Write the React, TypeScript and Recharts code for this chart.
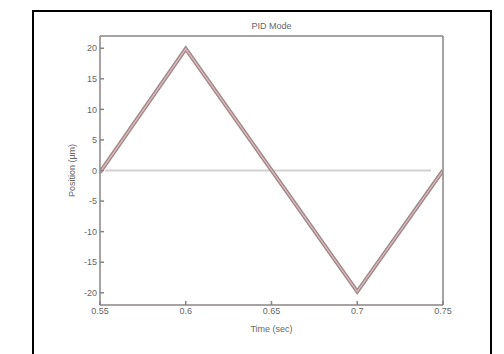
import { LineChart, Line, XAxis, YAxis } from 'recharts';

const timeTicks = [0.55, 0.6, 0.65, 0.7, 0.75];
const posTicks = [-20, -15, -10, -5, 0, 5, 10, 15, 20];

// triangle trajectory (corners)
const trajTime = [0.55, 0.6, 0.7, 0.75];
const trajPos = [-0.3, 19.9, -19.8, 0];

// zero / error trace
const zeroTime = [0.553, 0.743];
const zeroPos = [0, 0];

const trajData = trajTime.map((t, i) => ({ t, pos: trajPos[i] }));
const zeroData = zeroTime.map((t, i) => ({ t, pos: zeroPos[i] }));

const font = '"Liberation Sans", Arial, sans-serif';
const tickStyle = { fontSize: 9, fill: '#666', fontFamily: font };
const axisLine = { stroke: '#8a8484', strokeWidth: 1.5 };

const YLabel = ({ viewBox }: any) => {
  const x = viewBox.x + 64;
  const y = viewBox.y + viewBox.height / 2;
  return (
    <text
      x={x}
      y={y}
      transform={`rotate(-90, ${x}, ${y})`}
      textAnchor="middle"
      dominantBaseline="central"
      fontSize={9}
      fill="#666"
      fontFamily={font}
    >
      Position (µm)
    </text>
  );
};

export default function App() {
  return (
    <div style={{ position: 'relative', width: 496, height: 346, overflow: 'hidden' }}>
      <div
        style={{
          position: 'absolute',
          left: 24,
          top: 2,
          width: 460,
          height: 370,
          border: '2px solid #000',
          boxSizing: 'border-box',
        }}
      />
      <div style={{ position: 'absolute', left: 0, top: 0 }}>
        <LineChart width={488} height={346} margin={{ top: 27, right: 52, bottom: 19, left: 0 }}>
          <XAxis
            xAxisId="bottom"
            type="number"
            dataKey="t"
            domain={[0.55, 0.75]}
            ticks={timeTicks}
            allowDataOverflow
            height={30}
            tickSize={-4}
            tickMargin={7}
            tick={tickStyle}
            axisLine={axisLine}
            tickLine={axisLine}
            label={{ value: 'Time (sec)', position: 'insideBottom', offset: 3, style: tickStyle }}
          />
          <XAxis
            xAxisId="top"
            orientation="top"
            type="number"
            dataKey="t"
            domain={[0.55, 0.75]}
            ticks={timeTicks}
            allowDataOverflow
            height={1}
            tickSize={-4}
            tick={false}
            axisLine={axisLine}
            tickLine={axisLine}
            label={{ value: 'PID Mode', position: 'top', offset: 6, style: tickStyle }}
          />
          <YAxis
            yAxisId="left"
            type="number"
            domain={[-22, 22]}
            ticks={posTicks}
            allowDataOverflow
            width={92}
            tickSize={-4}
            tickMargin={7}
            tick={tickStyle}
            axisLine={axisLine}
            tickLine={axisLine}
            label={<YLabel />}
          />
          <YAxis
            yAxisId="right"
            orientation="right"
            type="number"
            domain={[-22, 22]}
            ticks={posTicks}
            allowDataOverflow
            width={1}
            tickSize={-4}
            tick={false}
            axisLine={axisLine}
            tickLine={axisLine}
          />
          <Line
            data={zeroData}
            xAxisId="top"
            yAxisId="right"
            dataKey="pos"
            stroke="#d4d0d0"
            strokeWidth={2}
            dot={false}
            isAnimationActive={false}
          />
          <Line
            data={trajData}
            xAxisId="bottom"
            yAxisId="left"
            dataKey="pos"
            stroke="#9c8c8e"
            strokeWidth={4}
            dot={false}
            isAnimationActive={false}
          />
          <Line
            data={trajData}
            xAxisId="bottom"
            yAxisId="left"
            dataKey="pos"
            stroke="#e8b8b8"
            strokeWidth={1.2}
            dot={false}
            isAnimationActive={false}
          />
        </LineChart>
      </div>
    </div>
  );
}
